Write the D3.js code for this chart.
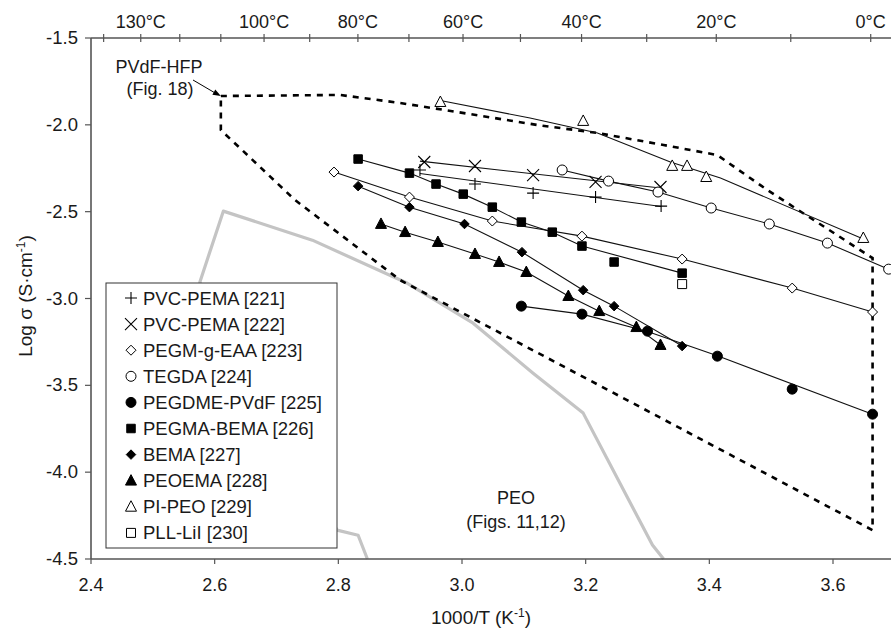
<!DOCTYPE html>
<html>
<head>
<meta charset="utf-8">
<script src="https://cdn.jsdelivr.net/npm/d3@7/dist/d3.min.js"></script>
<style>
  body { margin: 0; background: #fff; }
  svg text { font-family: "Liberation Sans", Arial, sans-serif; fill: #1a1a1a; }
</style>
</head>
<body>
<div id="chart"></div>
<script>
"use strict";

// ---- data (x = 1000/T, y = log sigma) ----
var xTicks = [2.4, 2.6, 2.8, 3.0, 3.2, 3.4, 3.6];
var yTicks = [-1.5, -2.0, -2.5, -3.0, -3.5, -4.0, -4.5];
var celsiusTicks = [140, 130, 120, 110, 100, 90, 80, 70, 60, 50, 40, 30, 20, 10, 0];
var celsiusLabels = [130, 100, 80, 60, 40, 20, 0];

var pvcPema221 = [[2.932, -2.26], [3.021, -2.341], [3.115, -2.393], [3.216, -2.416], [3.322, -2.468]];
var pvcPema221Fit = [[2.932, -2.28], [3.322, -2.47]];
var pvcPema222 = [[2.939, -2.214], [3.021, -2.237], [3.115, -2.289], [3.216, -2.329], [3.321, -2.358]];
var pvcPema222Fit = [[2.932, -2.209], [3.321, -2.364]];
var pegmEaa = [[2.793, -2.272], [2.915, -2.416], [3.049, -2.554], [3.194, -2.641], [3.356, -2.773], [3.534, -2.94], [3.664, -3.078]];
var tegda = [[3.162, -2.26], [3.237, -2.324], [3.317, -2.387], [3.403, -2.479], [3.497, -2.571], [3.591, -2.681], [3.69, -2.831]];
var pegdmePvdf = [[3.096, -3.044], [3.194, -3.09], [3.30, -3.188], [3.413, -3.332], [3.534, -3.522], [3.664, -3.666]];
var pegdmePvdfFit = [[3.096, -3.044], [3.194, -3.09], [3.30, -3.19], [3.413, -3.33], [3.664, -3.666]];
var pegmaBema = [[2.832, -2.197], [2.915, -2.278], [2.958, -2.341], [3.002, -2.399], [3.049, -2.474], [3.096, -2.56], [3.146, -2.618], [3.194, -2.698], [3.246, -2.79], [3.356, -2.854]];
var pegmaBemaFit = [[2.832, -2.197], [2.915, -2.278], [2.958, -2.341], [3.002, -2.399], [3.049, -2.474], [3.096, -2.56], [3.146, -2.618], [3.194, -2.698], [3.356, -2.854]];
var bema = [[2.832, -2.353], [2.915, -2.474], [3.004, -2.571], [3.097, -2.733], [3.196, -2.952], [3.246, -3.044], [3.356, -3.274]];
var peoema = [[2.869, -2.571], [2.908, -2.618], [2.961, -2.675], [3.021, -2.744], [3.06, -2.79], [3.104, -2.848], [3.172, -2.986], [3.222, -3.073], [3.282, -3.165], [3.321, -3.268]];
var piPeo = [[2.965, -1.869], [3.196, -1.978], [3.34, -2.237], [3.364, -2.237], [3.395, -2.301], [3.649, -2.652]];
var piPeoFit = [[2.965, -1.86], [3.11, -1.961], [3.219, -2.047], [3.337, -2.214], [3.418, -2.306], [3.649, -2.658]];
var pllLii = [[3.356, -2.917]];

// PVdF-HFP region (dashed) and PEO curve (grey)
var pvdfHfpRegion = [[2.610, -1.834], [2.803, -1.828], [2.900, -1.874], [3.013, -1.938], [3.122, -2.001], [3.219, -2.047],
  [3.326, -2.116], [3.413, -2.174], [3.494, -2.376], [3.664, -2.767], [3.664, -4.334], [3.267, -3.585],
  [2.900, -2.894], [2.730, -2.433], [2.610, -2.030], [2.610, -1.834]];
var peoCurve = [[2.847, -4.5], [2.832, -4.363], [2.798, -4.334], [2.576, -2.906], [2.614, -2.497], [2.758, -2.664],
  [2.911, -2.911], [3.018, -3.142], [3.115, -3.430], [3.196, -3.660], [3.308, -4.420], [3.326, -4.5]];

var series = [
  { name: "PVC-PEMA [221]", shape: "plus", pts: pvcPema221, line: pvcPema221Fit },
  { name: "PVC-PEMA [222]", shape: "cross", pts: pvcPema222, line: pvcPema222Fit },
  { name: "PEGM-g-EAA [223]", shape: "diamondOpen", pts: pegmEaa, line: pegmEaa },
  { name: "TEGDA [224]", shape: "circleOpen", pts: tegda, line: tegda },
  { name: "PEGDME-PVdF [225]", shape: "circle", pts: pegdmePvdf, line: pegdmePvdfFit },
  { name: "PEGMA-BEMA [226]", shape: "square", pts: pegmaBema, line: pegmaBemaFit },
  { name: "BEMA [227]", shape: "diamond", pts: bema, line: bema },
  { name: "PEOEMA [228]", shape: "triangle", pts: peoema, line: peoema },
  { name: "PI-PEO [229]", shape: "triangleOpen", pts: piPeo, line: piPeoFit },
  { name: "PLL-LiI [230]", shape: "squareOpen", pts: pllLii, line: null }
];

var width = 891, height = 630;
var x = d3.scaleLinear().domain([2.4, 3.6]).range([91, 833]);
var y = d3.scaleLinear().domain([-1.5, -4.5]).range([38, 559]);
var xRight = width;

var svg = d3.select("#chart").append("svg")
    .attr("width", width)
    .attr("height", height);

var line = d3.line()
    .x(function (d) { return x(d[0]); })
    .y(function (d) { return y(d[1]); });

// marker path, centred at 0,0
function marker(shape, s) {
  var h = s / 2;
  switch (shape) {
    case "plus": return "M" + (-h) + ",0H" + h + "M0," + (-h) + "V" + h;
    case "cross": return "M" + (-h) + "," + (-h) + "L" + h + "," + h + "M" + (-h) + "," + h + "L" + h + "," + (-h);
    case "diamond": case "diamondOpen": return "M0," + (-h) + "L" + h + ",0L0," + h + "L" + (-h) + ",0Z";
    case "square": case "squareOpen": return "M" + (-h) + "," + (-h) + "H" + h + "V" + h + "H" + (-h) + "Z";
    case "triangle": case "triangleOpen": return "M0," + (-h * 1.1) + "L" + h + "," + (h * 0.8) + "L" + (-h) + "," + (h * 0.8) + "Z";
    default: return d3.symbol().type(d3.symbolCircle).size(Math.PI * h * h)();
  }
}
var markerSize = { plus: 12, cross: 12, diamondOpen: 10, circleOpen: 10, circle: 10, square: 8.5,
  diamond: 9.5, triangle: 11, triangleOpen: 11, squareOpen: 9 };
function styleMarker(sel, shape) {
  var open = /Open/.test(shape), stroke = shape === "plus" || shape === "cross";
  sel.attr("d", marker(shape, markerSize[shape]))
    .attr("fill", stroke ? "none" : (open ? "#fff" : "#000"))
    .attr("stroke", "#000")
    .attr("stroke-width", stroke ? 1.1 : 1);
}

// ---- PEO grey curve ----
svg.append("path")
    .datum(peoCurve)
    .attr("d", line)
    .attr("fill", "none")
    .attr("stroke", "#c4c4c4")
    .attr("stroke-width", 3.2)
    .attr("stroke-linejoin", "round");

// ---- PVdF-HFP dashed region ----
svg.append("path")
    .datum(pvdfHfpRegion)
    .attr("d", line)
    .attr("fill", "none")
    .attr("stroke", "#000")
    .attr("stroke-width", 2.6)
    .attr("stroke-dasharray", "6,6");

// ---- series lines ----
series.forEach(function (s) {
  if (!s.line) return;
  svg.append("path")
      .datum(s.line)
      .attr("d", line)
      .attr("fill", "none")
      .attr("stroke", "#111")
      .attr("stroke-width", 1.1);
});

// ---- markers ----
series.forEach(function (s) {
  svg.append("g").selectAll("path")
      .data(s.pts)
      .enter().append("path")
      .attr("transform", function (d) { return "translate(" + x(d[0]) + "," + y(d[1]) + ")"; })
      .call(styleMarker, s.shape);
});

// ---- axes ----
var axisColor = "#555";
// bottom
var bottomAxis = svg.append("g").attr("transform", "translate(0," + y(-4.5) + ")");
bottomAxis.append("line").attr("x1", x(2.4)).attr("x2", xRight).attr("stroke", axisColor).attr("stroke-width", 1.4);
bottomAxis.selectAll(".tk").data(xTicks).enter().append("line")
    .attr("x1", function (d) { return x(d); }).attr("x2", function (d) { return x(d); })
    .attr("y1", 0).attr("y2", 5).attr("stroke", axisColor).attr("stroke-width", 1.2);
bottomAxis.selectAll(".lb").data(xTicks).enter().append("text")
    .attr("x", function (d) { return x(d); }).attr("y", 32)
    .attr("text-anchor", "middle").style("font-size", "18px")
    .text(function (d) { return d.toFixed(1); });

// left
var leftAxis = svg.append("g").attr("transform", "translate(" + x(2.4) + ",0)");
leftAxis.append("line").attr("y1", y(-1.5)).attr("y2", y(-4.5)).attr("stroke", axisColor).attr("stroke-width", 1.6);
leftAxis.selectAll(".tk").data(yTicks).enter().append("line")
    .attr("y1", function (d) { return y(d); }).attr("y2", function (d) { return y(d); })
    .attr("x1", -6).attr("x2", 0).attr("stroke", axisColor).attr("stroke-width", 1.2);
leftAxis.selectAll(".lb").data(yTicks).enter().append("text")
    .attr("x", -13).attr("y", function (d) { return y(d) + 6; })
    .attr("text-anchor", "end").style("font-size", "18.5px")
    .text(function (d) { return d.toFixed(1); });

// top (temperature)
var topAxis = svg.append("g").attr("transform", "translate(0," + y(-1.5) + ")");
function cx(c) { return x(1000 / (c + 273.15)); }
topAxis.append("line").attr("x1", x(2.4)).attr("x2", xRight).attr("stroke", axisColor).attr("stroke-width", 1.4);
topAxis.selectAll(".tk").data(celsiusTicks).enter().append("line")
    .attr("x1", cx).attr("x2", cx)
    .attr("y1", -4).attr("y2", 4).attr("stroke", axisColor).attr("stroke-width", 1.2);
topAxis.selectAll(".lb").data(celsiusLabels).enter().append("text")
    .attr("x", cx).attr("y", -10)
    .attr("text-anchor", "middle").style("font-size", "18px")
    .text(function (d) { return d + "°C"; });

// axis titles
var xt = svg.append("text")
    .attr("x", 481).attr("y", 624)
    .attr("text-anchor", "middle").style("font-size", "19px");
xt.append("tspan").text("1000/T (K");
xt.append("tspan").attr("dy", -7).style("font-size", "12px").text("-1");
xt.append("tspan").attr("dy", 7).text(")");

var yt = svg.append("text")
    .attr("transform", "translate(32,296) rotate(-90)")
    .attr("text-anchor", "middle").style("font-size", "19px");
yt.append("tspan").text("Log σ (S·cm");
yt.append("tspan").attr("dy", -7).style("font-size", "12px").text("-1");
yt.append("tspan").attr("dy", 7).text(")");

// ---- annotations ----
svg.append("text").attr("x", 159).attr("y", 73).attr("text-anchor", "middle")
    .style("font-size", "18px").text("PVdF-HFP");
svg.append("text").attr("x", 160).attr("y", 95).attr("text-anchor", "middle")
    .style("font-size", "18px").text("(Fig. 18)");
svg.append("line")
    .attr("x1", 193).attr("y1", 80).attr("x2", x(2.61) - 4).attr("y2", y(-1.834) - 2)
    .attr("stroke", "#000").attr("stroke-width", 1);
svg.append("path")
    .attr("transform", "translate(" + x(2.61) + "," + y(-1.834) + ") rotate(29)")
    .attr("d", "M0,0L-8,-3L-8,3Z").attr("fill", "#000");

svg.append("text").attr("x", 516).attr("y", 504).attr("text-anchor", "middle")
    .style("font-size", "18px").text("PEO");
svg.append("text").attr("x", 516).attr("y", 528).attr("text-anchor", "middle")
    .style("font-size", "18px").text("(Figs. 11,12)");

// ---- legend ----
var lg = svg.append("g").attr("transform", "translate(106,283)");
lg.append("rect").attr("width", 231).attr("height", 265)
    .attr("fill", "#fff").attr("stroke", "#333").attr("stroke-width", 1);
var item = lg.selectAll(".item").data(series).enter().append("g")
    .attr("transform", function (d, i) { return "translate(0," + (15 + i * 26.1) + ")"; });
item.append("path")
    .attr("transform", "translate(25,0)")
    .each(function (d) { d3.select(this).call(styleMarker, d.shape); });
item.append("text").attr("x", 37).attr("y", 6.5)
    .style("font-size", "18.5px")
    .text(function (d) { return d.name; });
</script>
</body>
</html>
